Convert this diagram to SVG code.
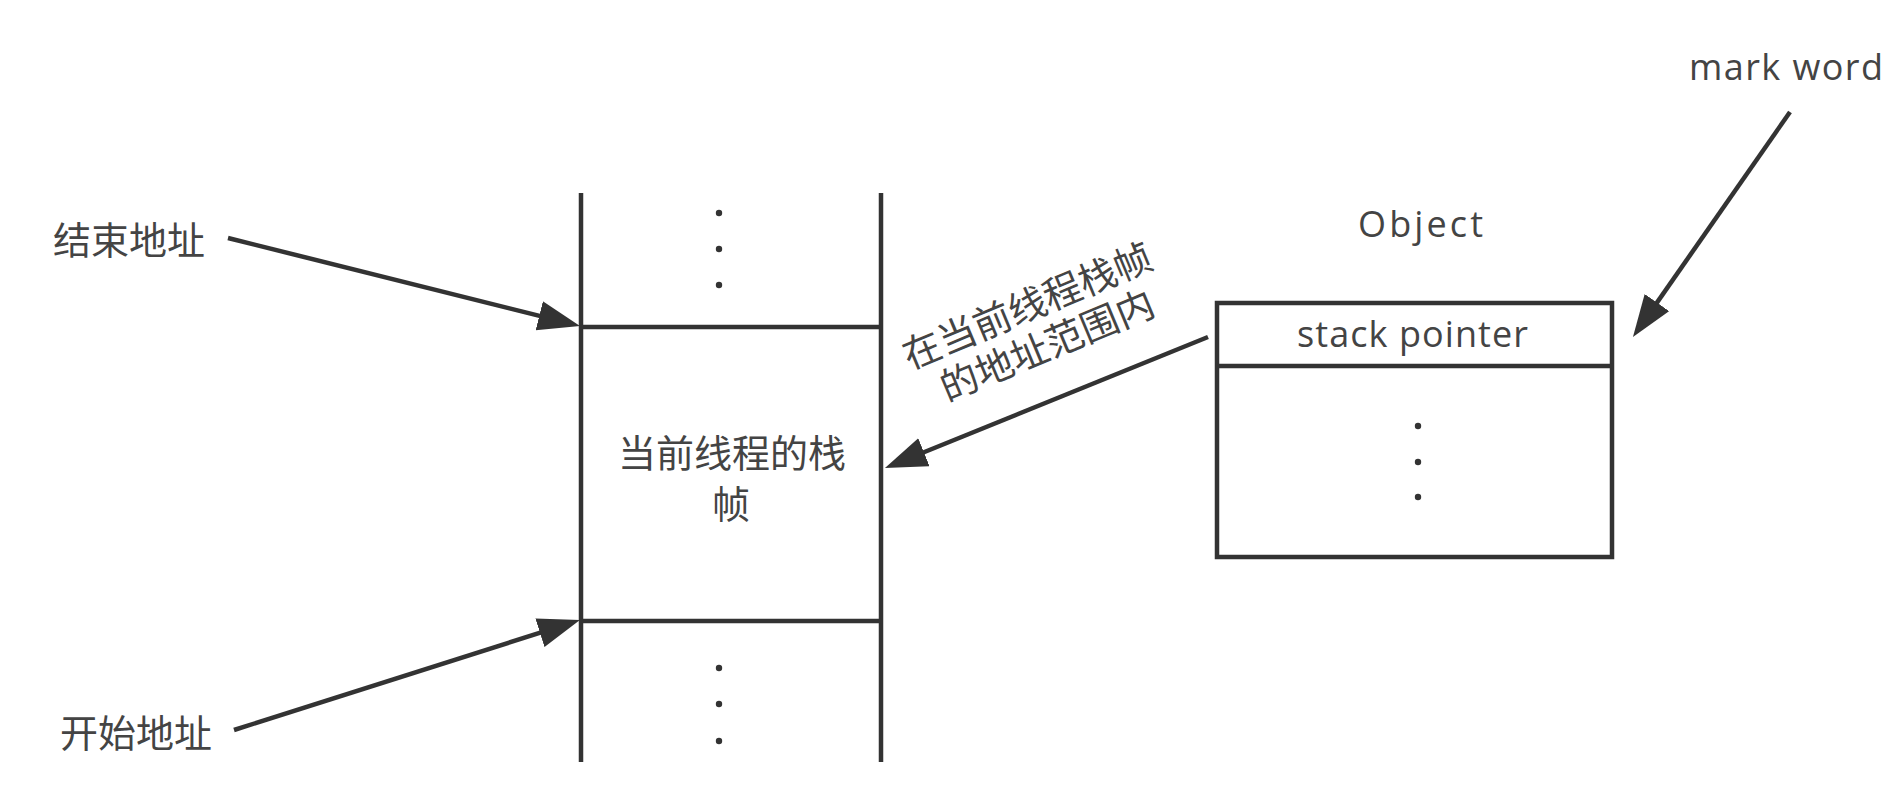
<svg xmlns="http://www.w3.org/2000/svg" width="1902" height="786" viewBox="0 0 1902 786">
<style>
.ln{stroke:#333;stroke-width:4.5;fill:none}
.ar{stroke:#333;stroke-width:4.5;fill:none;marker-end:url(#ah)}
.cn{font-family:"Noto Sans CJK SC","Noto Sans",sans-serif;font-size:38px;fill:#444;text-anchor:middle;dominant-baseline:central}
.en{font-family:"Open Sans","Noto Sans",sans-serif;font-size:36px;fill:#444}
.dot{fill:#333}
</style>
<defs>
<marker id="ah" markerUnits="userSpaceOnUse" markerWidth="46" markerHeight="34" refX="22" refY="15" orient="auto" viewBox="0 0 46 34">
<path d="M0,0 L42,15 L0,30 z" fill="#333"/>
</marker>
</defs>
<rect width="1902" height="786" fill="#fff"/>
<g id="stack">
<line class="ln" x1="581" y1="193" x2="581" y2="762"/>
<line class="ln" x1="881" y1="193" x2="881" y2="762"/>
<line class="ln" x1="581" y1="327" x2="881" y2="327"/>
<line class="ln" x1="581" y1="621" x2="881" y2="621"/>
<circle class="dot" cx="719" cy="213" r="3.2"/>
<circle class="dot" cx="719" cy="249" r="3.2"/>
<circle class="dot" cx="719" cy="285" r="3.2"/>
<circle class="dot" cx="719" cy="668" r="3.2"/>
<circle class="dot" cx="719" cy="704" r="3.2"/>
<circle class="dot" cx="719" cy="741" r="3.2"/>
<text class="cn" x="732" y="450">当前线程的栈</text>
<text class="cn" x="731" y="501">帧</text>
</g>
<g id="end-address">
<text class="cn" x="129" y="237">结束地址</text>
</g>
<g id="start-address">
<text class="cn" x="136" y="730">开始地址</text>
</g>
<g id="object">
<text class="en" x="1358" y="237" textLength="125" lengthAdjust="spacing">Object</text>
<rect class="ln" x="1217" y="303" width="395" height="254"/>
<line class="ln" x1="1217" y1="366" x2="1612" y2="366"/>
<text class="en" x="1297" y="347" textLength="231" lengthAdjust="spacing">stack pointer</text>
<circle class="dot" cx="1418" cy="426" r="3.2"/>
<circle class="dot" cx="1418" cy="462" r="3.2"/>
<circle class="dot" cx="1418" cy="497" r="3.2"/>
</g>
<g id="mark-word">
<text class="en" x="1689" y="80" textLength="194" lengthAdjust="spacing">mark word</text>
</g>
<g id="range-label">
<text class="cn" transform="translate(1026,303) rotate(-22.7)"><tspan x="0" y="0">在当前线程栈帧</tspan><tspan x="3" y="44">的地址范围内</tspan></text>
</g>
<g id="connectors">
<line class="ar" x1="228" y1="238" x2="560.6" y2="321.1"/>
<line class="ar" x1="234" y1="730" x2="560.9" y2="626.1"/>
<line class="ar" x1="1208" y1="337" x2="903.5" y2="460.5"/>
<line class="ar" x1="1790" y1="112" x2="1644.4" y2="320.6"/>
</g>
</svg>
